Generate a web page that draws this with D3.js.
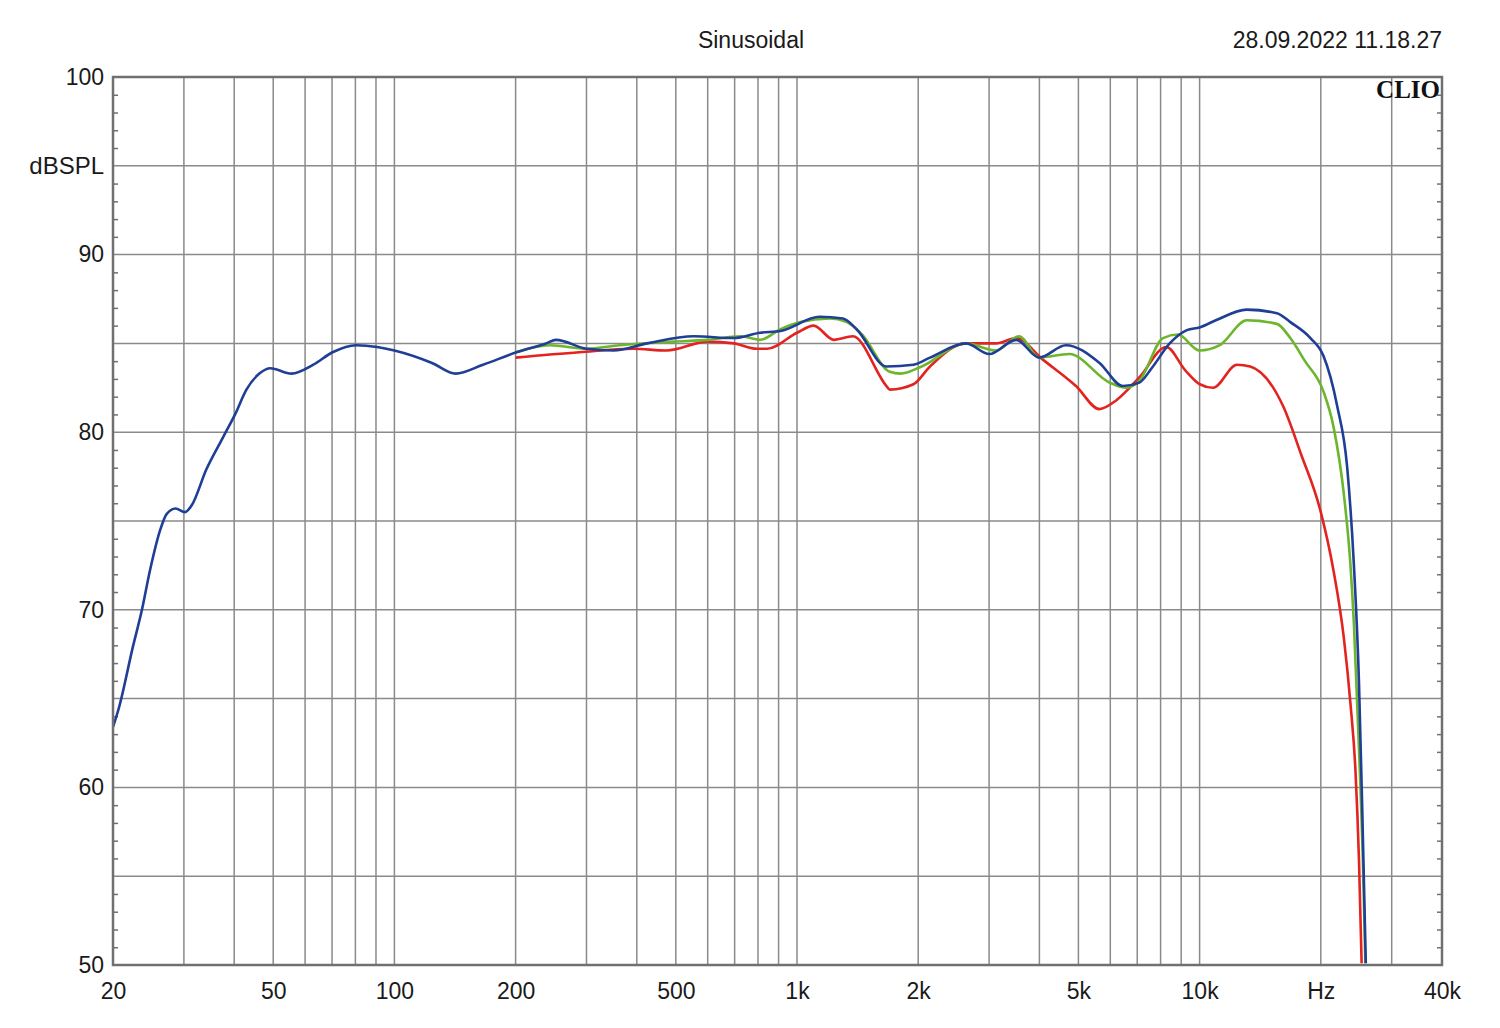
<!DOCTYPE html>
<html>
<head>
<meta charset="utf-8">
<script src="https://cdn.jsdelivr.net/npm/d3@7"></script>
<style>
  html, body { margin: 0; padding: 0; background: #fff; }
  svg { display: block; }
</style>
</head>
<body>
<svg id="chart" width="1500" height="1028"></svg>
<script>
// ---- data ----
const titleText = "Sinusoidal";
const dateText = "28.09.2022 11.18.27";
const brandText = "CLIO";
const yUnit = "dBSPL";
const xTickValues = [20, 50, 100, 200, 500, 1000, 2000, 5000, 10000, 20000, 40000];
const xTickLabels = ["20", "50", "100", "200", "500", "1k", "2k", "5k", "10k", "Hz", "40k"];
const xGridValues = [30, 40, 50, 60, 70, 80, 90, 100, 200, 300, 400, 500, 600, 700, 800, 900, 1000,
  2000, 3000, 4000, 5000, 6000, 7000, 8000, 9000, 10000, 20000, 30000];
const yTickValues = [100, 90, 80, 70, 60, 50];
const yGridValues = [95, 90, 85, 80, 75, 70, 65, 60, 55];

const blueFreq = [20, 20.7, 22.4, 23.6, 24.7, 26.2, 27.2, 28.6, 30.2, 31.4, 34.1, 37.5, 40.2, 42.9, 46.2, 49.2,
  55.5, 62.9, 70.2, 80.4, 90.6, 100, 124, 142, 166, 201, 238, 252, 300, 350, 424, 555, 697, 810, 910, 1138,
  1300, 1406, 1668, 1946, 2140, 2628, 3003, 3503, 3996, 4655, 5640, 6444, 7092, 7600, 8427, 9300, 10000,
  10970, 13100, 15560, 16800, 18850, 20300, 21950, 23260, 24170, 24880, 25370, 25870];
const blueDb = [63.4, 64.5, 67.9, 70.0, 72.2, 74.5, 75.4, 75.7, 75.5, 75.9, 77.9, 79.7, 81.0, 82.4, 83.3, 83.6,
  83.3, 83.8, 84.5, 84.9, 84.8, 84.6, 83.9, 83.3, 83.8, 84.5, 85.0, 85.2, 84.7, 84.6, 85.0, 85.4, 85.3, 85.6, 85.7, 86.5,
  86.4, 85.8, 83.7, 83.8, 84.2, 85.0, 84.4, 85.2, 84.2, 84.9, 83.9, 82.6, 82.8, 83.6, 85.0, 85.75, 85.9,
  86.3, 86.9, 86.7, 86.2, 85.3, 84.3, 81.5, 78.0, 72.5, 65.9, 58.4, 50.1];

const greenFreq = [200, 243, 300, 363, 495, 600, 724, 810, 910, 1018, 1206, 1330, 1450, 1700, 1807, 2040,
  2628, 3120, 3560, 3996, 4745, 5970, 6570, 7092, 8110, 8830, 10000, 11220, 13100, 15560, 16800, 18270,
  20300, 21510, 22820, 23700, 24170, 24900, 25500, 25800];
const greenDb = [84.5, 84.9, 84.7, 84.9, 85.1, 85.2, 85.4, 85.2, 85.8, 86.2, 86.4, 86.2, 85.5, 83.4, 83.3, 83.7,
  85.0, 84.6, 85.4, 84.2, 84.4, 82.8, 82.5, 82.9, 85.3, 85.5, 84.6, 84.9, 86.3, 86.1, 85.3, 84.0,
  82.3, 80.3, 76.5, 72.5, 69.2, 62.0, 55.0, 50.1];

const redFreq = [200, 288, 392, 474, 600, 697, 795, 843, 1000, 1100, 1235, 1376, 1668, 1700, 1946, 2140,
  2628, 3120, 3503, 4073, 4930, 5640, 6213, 7092, 8270, 9200, 10009, 10800, 12380, 13358, 16170, 17835,
  20000, 21510, 22820, 23700, 24390, 24880, 25260];
const redDb = [84.2, 84.5, 84.7, 84.6, 85.1, 85.0, 84.7, 84.7, 85.6, 86.0, 85.2, 85.4, 82.6, 82.4, 82.7, 83.7,
  85.0, 85.0, 85.3, 84.1, 82.6, 81.3, 81.8, 83.1, 84.8, 83.5, 82.7, 82.5, 83.8, 83.7, 81.4, 78.8,
  75.5, 72.2, 68.4, 64.7, 60.9, 55.9, 50.1];

const seriesList = [
  { name: "red", freq: redFreq, db: redDb, color: "#e3231f" },
  { name: "green", freq: greenFreq, db: greenDb, color: "#6cb52d" },
  { name: "blue", freq: blueFreq, db: blueDb, color: "#1f3e96" }
];

// ---- layout ----
const pLeft = 113, pRight = 1442, pTop = 77, pBottom = 965;
const FONT = "'Liberation Sans', Arial, sans-serif";
const FS = 23;
const svg = d3.select("#chart");
const x = d3.scaleLog().domain([20, 40000]).range([pLeft, pRight]);
const y = d3.scaleLinear().domain([50, 100]).range([pBottom, pTop]);

const gridColor = "#8a8a8a";

// grid
svg.append("g").selectAll("line").data(xGridValues).join("line")
  .attr("x1", d => x(d)).attr("x2", d => x(d))
  .attr("y1", pTop).attr("y2", pBottom)
  .attr("stroke", gridColor).attr("stroke-width", 1.5);
svg.append("g").selectAll("line").data(yGridValues).join("line")
  .attr("x1", pLeft).attr("x2", pRight)
  .attr("y1", d => y(d)).attr("y2", d => y(d))
  .attr("stroke", gridColor).attr("stroke-width", 1.5);

// minor ticks every 1 dB on both sides (inside)
const minor = d3.range(51, 100).filter(v => v % 5 !== 0);
svg.append("g").attr("transform", `translate(${pLeft},0)`)
  .call(d3.axisRight(y).tickValues(minor).tickSize(5).tickFormat(""))
  .call(g => g.select(".domain").remove())
  .call(g => g.selectAll("line").attr("stroke", "#707070").attr("stroke-width", 1.5));
svg.append("g").attr("transform", `translate(${pRight},0)`)
  .call(d3.axisLeft(y).tickValues(minor).tickSize(5).tickFormat(""))
  .call(g => g.select(".domain").remove())
  .call(g => g.selectAll("line").attr("stroke", "#707070").attr("stroke-width", 1.5));

// curves
svg.append("defs").append("clipPath").attr("id", "plotclip")
  .append("rect").attr("x", pLeft).attr("y", pTop - 2).attr("width", pRight - pLeft).attr("height", pBottom - pTop + 2);
const line = d3.line().x(d => x(d[0])).y(d => y(d[1])).curve(d3.curveMonotoneX);
const cg = svg.append("g").attr("clip-path", "url(#plotclip)");
seriesList.forEach(s => {
  const pts = s.freq.map((f, i) => [f, s.db[i]]);
  cg.append("path").datum(pts).attr("d", line)
    .attr("fill", "none").attr("stroke", s.color).attr("stroke-width", 2.6)
    .attr("stroke-linejoin", "round");
});

// frame
svg.append("rect").attr("x", pLeft).attr("y", pTop).attr("width", pRight - pLeft).attr("height", pBottom - pTop)
  .attr("fill", "none").attr("stroke", "#707070").attr("stroke-width", 2.5);

// y labels
const yAxis = d3.axisLeft(y).tickValues(yTickValues).tickSize(0).tickPadding(9).tickFormat(d3.format("d"));
svg.append("g").attr("transform", `translate(${pLeft},0)`).call(yAxis)
  .call(g => g.select(".domain").remove())
  .call(g => g.selectAll("text").style("font-size", FS + "px").style("font-family", FONT).attr("fill", "#1a1a1a"));
svg.append("text").attr("x", pLeft - 9).attr("y", y(95)).attr("dy", "0.35em")
  .attr("text-anchor", "end").style("font-size", (FS + 1) + "px").style("font-family", FONT)
  .attr("fill", "#1a1a1a").text(yUnit);

// x labels
const xAxis = d3.axisBottom(x).tickValues(xTickValues).tickSize(0).tickPadding(18)
  .tickFormat((d, i) => xTickLabels[i]);
svg.append("g").attr("transform", `translate(0,${pBottom})`).call(xAxis)
  .call(g => g.select(".domain").remove())
  .call(g => g.selectAll("text").style("font-size", FS + "px").style("font-family", FONT).attr("fill", "#1a1a1a"));

// titles
svg.append("text").attr("x", 751).attr("y", 48).attr("text-anchor", "middle")
  .style("font-size", FS + "px").style("font-family", FONT).attr("fill", "#1a1a1a").text(titleText);
svg.append("text").attr("x", 1442).attr("y", 48).attr("text-anchor", "end")
  .style("font-size", FS + "px").style("font-family", FONT).attr("fill", "#1a1a1a").text(dateText);
svg.append("text").attr("x", 1440).attr("y", 98).attr("text-anchor", "end")
  .style("font-family", "'Liberation Serif', 'DejaVu Serif', serif").style("font-weight", "bold")
  .style("font-size", "25px").attr("fill", "#111").text(brandText);
</script>
</body>
</html>
